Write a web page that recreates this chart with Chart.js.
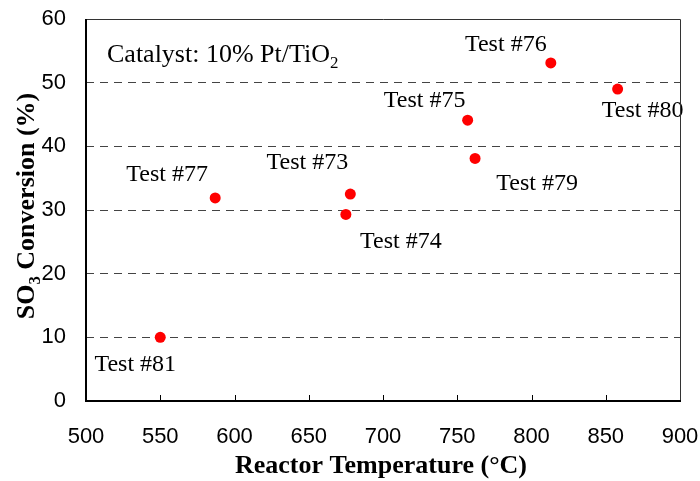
<!DOCTYPE html>
<html>
<head>
<meta charset="utf-8">
<script src="https://cdn.jsdelivr.net/npm/chart.js@4.4.1/dist/chart.umd.min.js"></script>
<style>
html,body{margin:0;padding:0;background:#fff;}
#wrap{width:700px;height:481px;}
</style>
</head>
<body>
<div id="wrap"><canvas id="c" width="700" height="481"></canvas></div>
<script>
// ---- data ----
const testNames   = ['Test #81','Test #77','Test #74','Test #73','Test #75','Test #79','Test #76','Test #80'];
const temperatures = [550, 587, 675, 678, 757, 762, 813, 858];   // °C
const conversions  = [10.0, 31.9, 29.3, 32.5, 44.1, 38.1, 53.1, 49.0]; // %
const xTicks = [500, 550, 600, 650, 700, 750, 800, 850, 900];
const yTicks = [0, 10, 20, 30, 40, 50, 60];

// label placement relative to each point (pixels) - styling only
const labelOffsets = [[-25,27],[-48,-23],[55,27],[-43,-31],[-43,-20],[62,25],[-45,-18],[25,22]];

const serif = '"Liberation Serif","Times New Roman",serif';
const sans = '"Liberation Sans",Arial,sans-serif';

function drawRuns(ctx, runs, size, bold, x, y, align) {
  const f = (s) => (bold ? 'bold ' : '') + s + 'px ' + serif;
  let total = 0;
  runs.forEach(r => { ctx.font = f(r.sub ? size * 0.65 : size); total += ctx.measureText(r.t).width; });
  let cx = align === 'center' ? x - total / 2 : x;
  ctx.textAlign = 'left';
  ctx.textBaseline = 'alphabetic';
  runs.forEach(r => {
    ctx.font = f(r.sub ? size * 0.65 : size);
    ctx.fillText(r.t, cx, y + (r.sub ? size * 0.22 : 0));
    cx += ctx.measureText(r.t).width;
  });
}

const decor = {
  id: 'decor',
  afterDatasetsDraw(chart) {
    const {ctx, chartArea: a, scales: {x, y}} = chart;
    ctx.save();
    ctx.fillStyle = '#000';
    // point labels
    ctx.font = '24px ' + serif;
    ctx.textAlign = 'center';
    ctx.textBaseline = 'middle';
    testNames.forEach((name, i) => {
      const px = x.getPixelForValue(temperatures[i]);
      const py = y.getPixelForValue(conversions[i]);
      ctx.fillText(name, px + labelOffsets[i][0], py + labelOffsets[i][1]);
    });
    // inward x tick marks
    ctx.strokeStyle = '#000';
    ctx.lineWidth = 1;
    xTicks.slice(1, -1).forEach(v => {
      const px = Math.round(x.getPixelForValue(v)) + 0.5;
      ctx.beginPath(); ctx.moveTo(px, a.bottom); ctx.lineTo(px, a.bottom - 6); ctx.stroke();
    });
    // frame
    ctx.lineWidth = 1;
    ctx.strokeStyle = '#333';
    ctx.beginPath();
    ctx.moveTo(a.left, a.top + 0.5); ctx.lineTo(a.right + 0.5, a.top + 0.5); ctx.lineTo(a.right + 0.5, a.bottom);
    ctx.stroke();
    ctx.lineWidth = 2;
    ctx.strokeStyle = '#000';
    ctx.beginPath();
    ctx.moveTo(a.left, a.top); ctx.lineTo(a.left, a.bottom); ctx.lineTo(a.right + 1, a.bottom);
    ctx.stroke();
    // annotation
    drawRuns(ctx, [{t:'Catalyst: 10% Pt/TiO'},{t:'2',sub:true}], 26, false, a.left + 21, a.top + 43, 'left');
    // axis titles
    drawRuns(ctx, [{t:'Reactor Temperature (°C)'}], 26, true, (a.left + a.right) / 2 - 2, 473, 'center');
    ctx.translate(34, (a.top + a.bottom) / 2 - 4);
    ctx.rotate(-Math.PI / 2);
    drawRuns(ctx, [{t:'SO'},{t:'3',sub:true},{t:' Conversion (%)'}], 26, true, 0, 0, 'center');
    ctx.restore();
  }
};

new Chart(document.getElementById('c'), {
  type: 'scatter',
  data: {
    datasets: [{
      data: temperatures.map((t, i) => ({x: t, y: conversions[i]})),
      backgroundColor: '#ff0000',
      borderWidth: 0,
      pointRadius: 5.5,
      pointHoverRadius: 5.5
    }]
  },
  options: {
    responsive: false,
    animation: false,
    events: [],
    layout: {padding: {left: 0, right: 20, top: 19, bottom: 0}},
    plugins: {legend: {display: false}, tooltip: {enabled: false}},
    scales: {
      x: {
        type: 'linear', min: 500, max: 900,
        afterBuildTicks: s => { s.ticks = xTicks.map(v => ({value: v})); },
        afterFit: s => { s.height = 80; s.paddingLeft = 0; s.paddingRight = 0; },
        grid: {display: true, drawOnChartArea: false, drawTicks: false},
        border: {display: false},
        ticks: {color: '#000', font: {family: sans, size: 22}, padding: 23, maxRotation: 0, autoSkip: false}
      },
      y: {
        type: 'linear', min: 0, max: 60,
        afterBuildTicks: s => { s.ticks = yTicks.map(v => ({value: v})); },
        afterFit: s => { s.width = 86; s.paddingTop = 0; s.paddingBottom = 0; },
        grid: {
          drawTicks: false,
          color: c => (c.tick && (c.tick.value === 0 || c.tick.value === 60)) ? 'rgba(0,0,0,0)' : '#444',
          lineWidth: 1
        },
        border: {display: false, dash: [8, 6]},
        ticks: {color: '#000', font: {family: sans, size: 22}, padding: 20, autoSkip: false}
      }
    }
  },
  plugins: [decor]
});
</script>
</body>
</html>
